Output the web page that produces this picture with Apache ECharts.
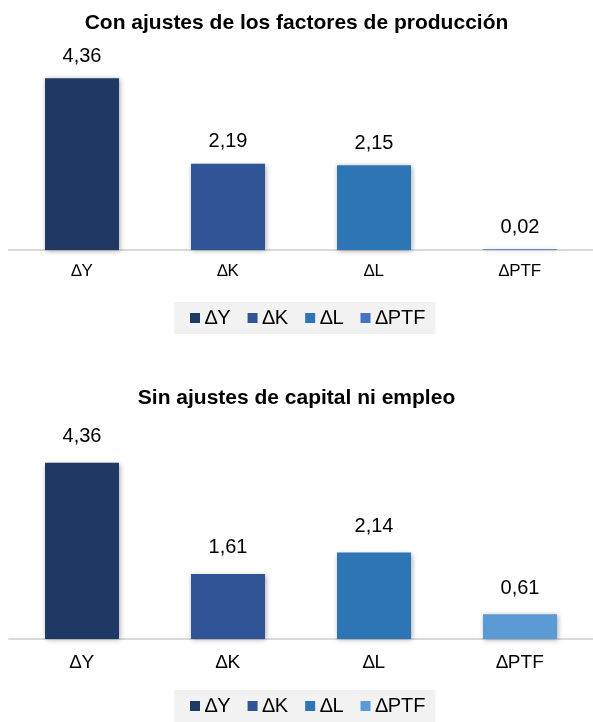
<!DOCTYPE html>
<html>
<head>
<meta charset="utf-8">
<script src="https://cdn.jsdelivr.net/npm/echarts@6/dist/echarts.min.js"></script>
<style>
  html, body { margin: 0; padding: 0; background: #fff; }
  #chart { width: 593px; height: 722px; }
</style>
</head>
<body>
<div id="chart"></div>
<script>
(function () {
var myChart = echarts.init(document.getElementById('chart'));

// datos
var categorias = ['∆Y', '∆K', '∆L', '∆PTF'];
var conAjustes = [4.36, 2.19, 2.15, 0.02];
var sinAjustes = [4.36, 1.61, 2.14, 0.61];
var titulos = ['Con ajustes de los factores de producción', 'Sin ajustes de capital ni empleo'];
var coloresArriba = ['#203864', '#2f5597', '#2e75b6', '#4472c4'];
var coloresAbajo = ['#203864', '#2f5597', '#2e75b6', '#5b9bd5'];

var fuente = 'Liberation Sans, Arial, sans-serif';

function coma(v) {
  return v.toFixed(2).replace('.', ',');
}

// una serie por categoria, apiladas para que queden centradas
function series(valores, colores, idx, dist) {
  return categorias.map(function (c, i) {
    var d = categorias.map(function (_, j) { return j === i ? valores[i] : null; });
    return {
      name: c,
      type: 'bar',
      stack: 'g' + idx,
      xAxisIndex: idx,
      yAxisIndex: idx,
      barWidth: 74,
      data: d,
      itemStyle: {
        color: colores[i],
        shadowColor: 'rgba(0,0,0,0.35)',
        shadowBlur: 5,
        shadowOffsetX: 1,
        shadowOffsetY: 1
      },
      label: {
        show: true,
        position: 'top',
        distance: dist,
        color: '#000',
        fontSize: 20,
        fontFamily: fuente,
        formatter: function (p) { return coma(p.value); }
      }
    };
  });
}

function eje(idx, tam, margen) {
  return {
    type: 'category',
    gridIndex: idx,
    data: categorias,
    axisTick: { show: false },
    axisLine: { lineStyle: { color: '#d9d9d9', width: 2 } },
    axisLabel: { color: '#000', fontSize: tam, fontFamily: fuente, margin: margen }
  };
}

function ejeY(idx) {
  return {
    type: 'value',
    gridIndex: idx,
    min: 0,
    max: 5,
    show: false
  };
}

function leyenda(colores, top) {
  return {
    top: top,
    left: 174,
    backgroundColor: '#f2f2f2',
    padding: [6, 10, 6, 16],
    itemWidth: 10,
    itemHeight: 10,
    itemGap: 17,
    icon: 'rect',
    data: categorias.map(function (c, i) {
      return { name: c, itemStyle: { color: colores[i] } };
    }),
    textStyle: { color: '#000', fontSize: 20, fontFamily: fuente }
  };
}

var option = {
  animation: false,
  title: [
    { text: titulos[0], left: 'center', top: 8, textStyle: { fontSize: 21, fontWeight: 'bold', color: '#000', fontFamily: fuente } },
    { text: titulos[1], left: 'center', top: 383, textStyle: { fontSize: 21, fontWeight: 'bold', color: '#000', fontFamily: fuente } }
  ],
  legend: [leyenda(coloresArriba, 302), leyenda(coloresAbajo, 690)],
  grid: [
    { left: 9, right: 0, top: 53, height: 197 },
    { left: 9, right: 0, top: 437, height: 202 }
  ],
  xAxis: [eje(0, 17, 13), eje(1, 19, 14)],
  yAxis: [ejeY(0), ejeY(1)],
  series: series(conAjustes, coloresArriba, 0, 12).concat(series(sinAjustes, coloresAbajo, 1, 16))
};

myChart.setOption(option);

window.addEventListener('resize', function () {
  myChart.resize();
});
})();
</script>
</body>
</html>
